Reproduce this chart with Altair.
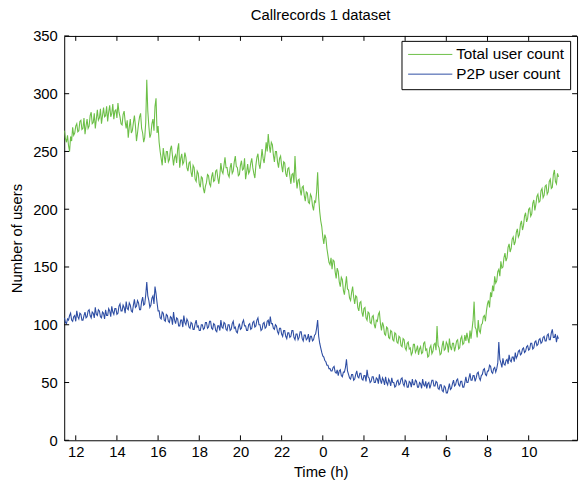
import altair as alt
import pandas as pd

# time axis: samples every 0.05 h starting at 11.45 h (hours past midnight continue as 24, 25, ...)
t_start = 11.45
t_step = 0.05

total_users = [
    268, 261, 258, 264, 255, 250, 263, 259, 271, 264, 266, 272, 274, 267, 268, 276, 277, 269, 270, 279,
    265, 272, 278, 270, 272, 281, 284, 274, 275, 283, 270, 278, 286, 277, 279, 287, 274, 281, 288, 280,
    281, 289, 276, 284, 290, 280, 283, 291, 278, 285, 286, 279, 292, 284, 280, 274, 273, 282, 285, 276,
    270, 277, 262, 271, 278, 266, 268, 275, 281, 272, 259, 266, 274, 280, 283, 270, 266, 258, 262, 275,
    312, 285, 272, 262, 265, 274, 278, 268, 289, 296, 266, 272, 258, 250, 244, 238, 253, 246, 240, 250,
    250, 241, 243, 252, 255, 246, 238, 245, 247, 240, 252, 257, 236, 244, 248, 239, 241, 249, 245, 236,
    233, 240, 241, 232, 228, 238, 236, 226, 224, 233, 231, 222, 219, 228, 227, 218, 214, 220, 223, 230,
    229, 222, 220, 228, 232, 224, 225, 233, 234, 227, 222, 230, 240, 233, 231, 238, 245, 236, 236, 230,
    228, 236, 240, 231, 233, 241, 246, 237, 236, 229, 230, 238, 242, 234, 235, 244, 226, 232, 239, 231,
    233, 240, 244, 236, 231, 227, 238, 245, 248, 239, 235, 243, 252, 244, 240, 248, 258, 250, 265, 255,
    249, 258, 256, 247, 241, 250, 250, 241, 236, 244, 246, 238, 232, 241, 240, 231, 228, 235, 236, 229,
    222, 230, 231, 223, 246, 228, 218, 225, 226, 217, 212, 219, 220, 212, 207, 215, 214, 206, 205, 213,
    211, 203, 199, 207, 206, 215, 232, 210, 198, 190, 185, 176, 170, 178, 175, 166, 160, 154, 152, 158,
    148, 156, 155, 146, 140, 149, 146, 137, 133, 141, 139, 130, 126, 134, 142, 131, 130, 123, 121, 128,
    133, 124, 118, 125, 124, 115, 112, 119, 120, 111, 107, 114, 115, 106, 104, 111, 110, 102, 101, 107,
    108, 100, 97, 104, 103, 109, 111, 101, 95, 102, 99, 92, 91, 98, 97, 89, 88, 95, 94, 87,
    86, 93, 92, 85, 84, 90, 89, 82, 81, 88, 87, 80, 78, 84, 85, 79, 80, 74, 76, 83,
    83, 76, 78, 82, 74, 79, 81, 75, 76, 84, 85, 78, 79, 72, 73, 80, 82, 75, 77, 83,
    84, 78, 99, 82, 80, 74, 75, 82, 86, 78, 79, 85, 83, 76, 88, 81, 78, 84, 84, 77,
    81, 86, 87, 79, 80, 88, 90, 83, 84, 91, 86, 93, 88, 84, 95, 88, 96, 104, 120, 98,
    96, 89, 104, 95, 93, 100, 101, 107, 108, 103, 112, 118, 121, 115, 128, 124, 134, 129, 142, 136,
    138, 146, 148, 142, 155, 149, 150, 158, 162, 155, 158, 167, 170, 163, 166, 174, 176, 169, 172, 180,
    183, 176, 178, 187, 190, 182, 186, 194, 197, 189, 192, 200, 201, 194, 196, 205, 208, 199, 204, 211,
    213, 206, 207, 216, 218, 210, 212, 220, 221, 213, 215, 224, 226, 218, 219, 230, 234, 224, 222, 231,
    228,
]

p2p_users = [
    106, 102, 101, 105, 104, 108, 110, 104, 103, 107, 108, 103, 112, 107, 105, 110, 109, 104, 104, 108,
    111, 106, 107, 112, 113, 108, 106, 111, 110, 106, 115, 109, 108, 113, 112, 107, 106, 111, 110, 105,
    113, 108, 108, 114, 112, 107, 116, 111, 109, 114, 114, 109, 110, 116, 118, 112, 112, 117, 115, 110,
    120, 114, 113, 119, 117, 112, 111, 117, 122, 115, 116, 121, 119, 113, 113, 120, 124, 117, 118, 126,
    137, 125, 121, 115, 117, 123, 125, 118, 133, 127, 119, 112, 112, 106, 105, 111, 110, 104, 103, 109,
    108, 103, 102, 107, 106, 100, 111, 104, 101, 106, 105, 99, 99, 104, 104, 98, 108, 102, 100, 105,
    103, 98, 97, 102, 101, 96, 96, 101, 104, 98, 99, 95, 95, 100, 100, 96, 97, 102, 102, 97,
    98, 103, 103, 97, 96, 101, 100, 95, 94, 99, 99, 95, 104, 98, 97, 102, 101, 96, 95, 100,
    100, 95, 96, 101, 103, 97, 98, 94, 93, 98, 101, 96, 97, 102, 104, 99, 99, 95, 95, 100,
    101, 96, 97, 102, 103, 98, 99, 104, 106, 100, 100, 95, 96, 101, 102, 97, 98, 103, 104, 99,
    107, 101, 101, 97, 96, 100, 99, 94, 92, 97, 97, 92, 90, 95, 95, 90, 88, 93, 93, 89,
    90, 95, 95, 89, 87, 92, 92, 87, 89, 94, 94, 88, 86, 91, 91, 87, 88, 92, 85, 90,
    90, 86, 87, 91, 92, 97, 104, 90, 84, 80, 76, 73, 72, 69, 68, 65, 65, 62, 62, 60,
    60, 63, 64, 59, 58, 61, 56, 60, 61, 56, 55, 59, 59, 63, 70, 60, 57, 54, 53, 57,
    57, 52, 53, 57, 60, 55, 54, 58, 58, 53, 52, 56, 56, 51, 61, 55, 54, 50, 51, 55,
    55, 50, 50, 54, 53, 49, 57, 52, 49, 54, 52, 48, 55, 50, 48, 53, 51, 47, 54, 50,
    50, 46, 47, 51, 52, 48, 49, 53, 54, 49, 47, 52, 51, 46, 46, 51, 50, 46, 53, 48,
    48, 52, 51, 46, 46, 50, 49, 45, 53, 48, 47, 51, 45, 49, 50, 45, 48, 52, 52, 47,
    47, 51, 50, 45, 44, 48, 48, 43, 42, 47, 46, 41, 41, 45, 49, 44, 45, 49, 52, 47,
    48, 52, 53, 48, 47, 51, 51, 46, 46, 50, 55, 50, 50, 54, 58, 52, 52, 56, 56, 51,
    54, 58, 59, 54, 52, 56, 57, 61, 62, 57, 56, 60, 60, 65, 64, 59, 58, 62, 63, 59,
    62, 67, 85, 70, 67, 63, 71, 66, 65, 69, 70, 66, 74, 69, 68, 72, 72, 68, 76, 71,
    73, 77, 78, 74, 75, 79, 80, 76, 77, 81, 82, 78, 79, 84, 84, 79, 80, 85, 86, 82,
    83, 87, 88, 84, 85, 89, 90, 86, 86, 91, 92, 87, 87, 93, 96, 89, 89, 92, 85, 90,
    88,
]

series_names = ["Total user count", "P2P user count"]
series_colors = ["#6cbf47", "#2d4da3"]
x_ticks = [12, 14, 16, 18, 20, 22, 24, 26, 28, 30, 32, 34]
y_ticks = [0, 50, 100, 150, 200, 250, 300, 350]
x_domain = [11.44, 36.35]
y_domain = [0, 350]

W, H = 520, 410
FONT = "Liberation Sans"
FS = 15

hours_total = [round(t_start + t_step * i, 3) for i in range(len(total_users))]
hours_p2p = [round(t_start + t_step * i, 3) for i in range(len(p2p_users))]
df = pd.DataFrame({
    "t": hours_total + hours_p2p,
    "v": total_users + p2p_users,
    "s": [series_names[0]] * len(total_users) + [series_names[1]] * len(p2p_users),
})

xs = alt.Scale(domain=x_domain, nice=False, zero=False)
ys = alt.Scale(domain=y_domain, nice=False, zero=False)

x_axis = alt.Axis(values=x_ticks, labelExpr="datum.value % 24", tickSize=0,
                  domain=False, grid=False, labelPadding=4, titlePadding=6)
y_axis = alt.Axis(values=y_ticks, tickSize=0, domain=False, grid=False,
                  labelPadding=7, titlePadding=8)

lines = alt.Chart(df).mark_line(strokeWidth=1.1, clip=True).encode(
    x=alt.X("t:Q", scale=xs, title="Time (h)", axis=x_axis),
    y=alt.Y("v:Q", scale=ys, title="Number of users", axis=y_axis),
    color=alt.Color("s:N", sort=series_names,
                    scale=alt.Scale(domain=series_names, range=series_colors),
                    legend=alt.Legend(title=None, orient="none", legendX=342, legendY=5,
                                      symbolType="M-1,0H5.4", symbolSize=196,
                                      symbolStrokeWidth=1, labelFontSize=15.5,
                                      labelFont=FONT, labelColor="black",
                                      strokeColor="black", fillColor="white",
                                      padding=6, rowPadding=3, labelOffset=34)),
)

xt = pd.DataFrame({"t": x_ticks})
yt = pd.DataFrame({"v": y_ticks})

xb = alt.Chart(xt).mark_rule(color="black").encode(
    x=alt.X("t:Q", scale=xs, title="Time (h)", axis=x_axis), y=alt.value(H), y2=alt.value(H - 5))
xtop = alt.Chart(xt).mark_rule(color="black").encode(
    x=alt.X("t:Q", scale=xs, title="Time (h)", axis=x_axis), y=alt.value(0), y2=alt.value(5))
yl = alt.Chart(yt).mark_rule(color="black").encode(
    y=alt.Y("v:Q", scale=ys, title="Number of users", axis=y_axis), x=alt.value(0), x2=alt.value(5))
yr = alt.Chart(yt).mark_rule(color="black").encode(
    y=alt.Y("v:Q", scale=ys, title="Number of users", axis=y_axis), x=alt.value(W - 5), x2=alt.value(W))

chart = alt.layer(lines, xb, xtop, yl, yr).properties(
    width=W, height=H,
    title=alt.TitleParams("Callrecords 1 dataset", fontSize=FS, font=FONT,
                          fontWeight="normal", color="black", offset=6),
    autosize=alt.AutoSizeParams(type="none"),
    padding={"left": 57, "top": 25, "right": 3, "bottom": 41},
).configure_view(stroke="black", strokeWidth=1).configure_axis(
    labelFont=FONT, labelFontSize=FS, labelColor="black",
    titleFont=FONT, titleFontSize=FS, titleColor="black", titleFontWeight="normal",
)

chart.save("out.html", embed_options={"renderer": "svg", "actions": False})
